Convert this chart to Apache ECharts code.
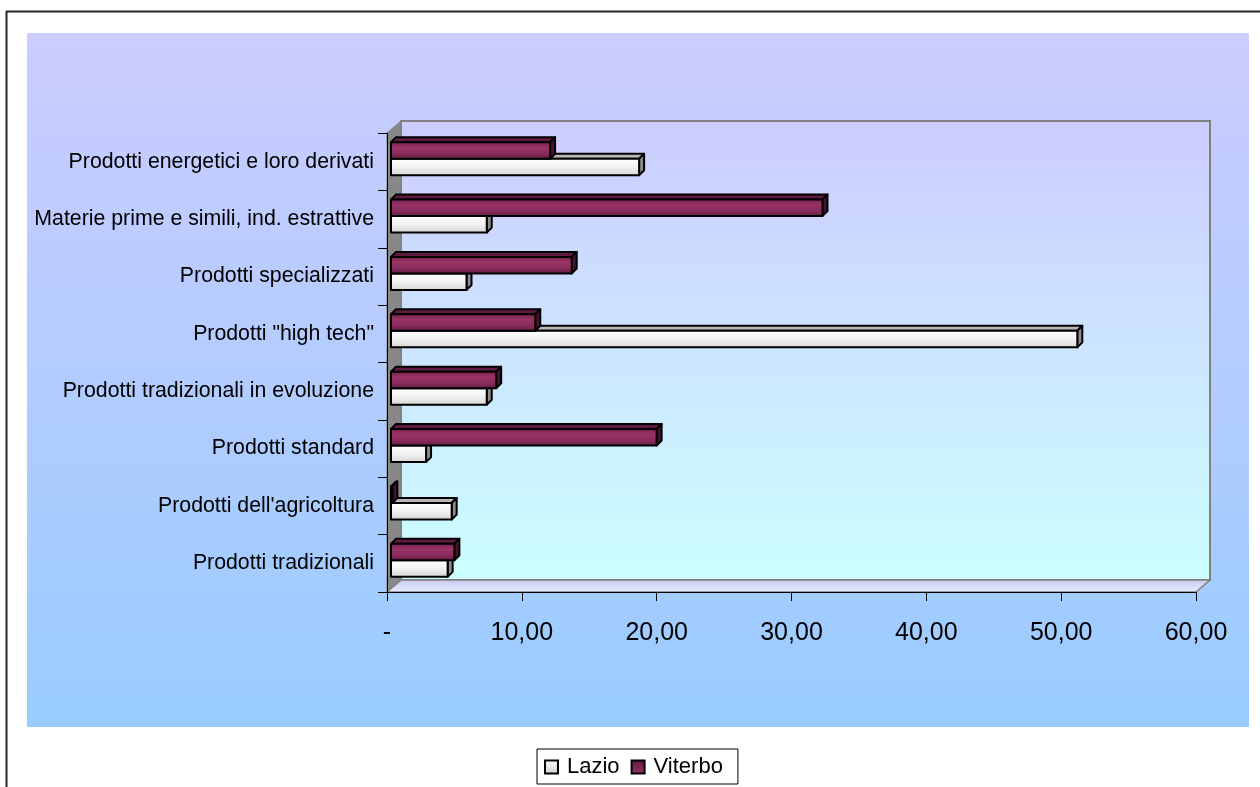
<!DOCTYPE html>
<html>
<head>
<meta charset="utf-8">
<script src="https://cdn.jsdelivr.net/npm/echarts@6/dist/echarts.min.js"></script>
<style>
  html, body { margin: 0; padding: 0; background: #ffffff; }
  #chart { width: 1260px; height: 787px; }
</style>
</head>
<body>
<div id="chart"></div>
<script>
// Categories, listed top to bottom
const categories = [
  'Prodotti energetici e loro derivati',
  'Materie prime e simili, ind. estrattive',
  'Prodotti specializzati',
  'Prodotti "high tech"',
  'Prodotti tradizionali in evoluzione',
  'Prodotti standard',
  "Prodotti dell'agricoltura",
  'Prodotti tradizionali'
];
const lazio   = [18.4, 7.1, 5.6, 50.9, 7.1, 2.6, 4.5, 4.2];
const viterbo = [11.8, 32.0, 13.4, 10.7, 7.8, 19.7, 0.1, 4.7];
const seriesNames = ['Lazio', 'Viterbo'];
const axisMin = 0, axisMax = 60, axisStep = 10;

// Plot frame (front plane) and the 3D depth used for walls and bars
const FRAME = { left: 387, top: 133, right: 1196, bottom: 592 };
const WALL_D = [14, -12];   // back wall offset
const BAR_SHIFT = [4, -3];  // bars sit slightly behind the front plane
const BAR_D = [5, -5];      // bar thickness in depth
const W = 1260, H = 787;

const chart = echarts.init(document.getElementById('chart'), null, { renderer: 'canvas' });

const lin = (stops) => new echarts.graphic.LinearGradient(0, 0, 0, 1,
  stops.map((c, i) => ({ offset: i / (stops.length - 1), color: c })));

const STYLE = {
  Lazio: {
    front: () => lin(['#ffffff', '#f2f2f2', '#d4d4d4']),
    top: '#b8b8b8',
    side: '#8c8c8c'
  },
  Viterbo: {
    front: () => lin(['#6f2049', '#993366', '#8a2d5c', '#5c1a3e']),
    top: '#5e1a3f',
    side: '#4a1232'
  }
};

function makeRender(name) {
  const st = STYLE[name];
  const upper = name === 'Viterbo';
  return function (params, api) {
    const val = api.value(0);
    const cat = api.value(1);
    const p0 = api.coord([0, cat]);
    const p1 = api.coord([val, cat]);
    const band = api.size([0, 1])[1];
    const h = band * 0.288;
    const cy = p0[1] + BAR_SHIFT[1];
    const y1 = upper ? cy - h : cy;
    const y2 = y1 + h;
    const x1 = p0[0] + BAR_SHIFT[0];
    const x2 = Math.max(p1[0] + BAR_SHIFT[0], x1 + 1);
    const dx = BAR_D[0], dy = BAR_D[1];
    const stroke = { stroke: '#000000', lineWidth: 2, lineJoin: 'round' };
    return {
      type: 'group',
      children: [
        { type: 'polygon',
          shape: { points: [[x1, y1], [x1 + dx, y1 + dy], [x2 + dx, y1 + dy], [x2, y1]] },
          style: Object.assign({ fill: st.top }, stroke) },
        { type: 'polygon',
          shape: { points: [[x2, y1], [x2 + dx, y1 + dy], [x2 + dx, y2 + dy], [x2, y2]] },
          style: Object.assign({ fill: st.side }, stroke) },
        { type: 'rect',
          shape: { x: x1, y: y1, width: x2 - x1, height: h },
          style: Object.assign({ fill: st.front() }, stroke) }
      ]
    };
  };
}

const fmt = (v) => v === 0 ? '-' : v.toFixed(2).replace('.', ',');

// Walls and floor of the 3D plot box
const L = FRAME.left, T = FRAME.top, R = FRAME.right, B = FRAME.bottom;
const dX = WALL_D[0], dY = WALL_D[1];
const graphics = [
  // outer plot area
  { type: 'rect', z: -10, shape: { x: 27, y: 33, width: 1222, height: 694 },
    style: { fill: lin(['#ccccff', '#99ccff']) } },
  // back wall
  { type: 'rect', z: -9, shape: { x: L + dX, y: T + dY, width: R - L, height: B - T },
    style: { fill: lin(['#ccccff', '#ccffff']), stroke: '#808080', lineWidth: 2 } },
  // left side wall
  { type: 'polygon', z: -8,
    shape: { points: [[L, T], [L + dX, T + dY], [L + dX, B + dY], [L, B]] },
    style: { fill: '#888888', stroke: '#808080', lineWidth: 1 } },
  // floor
  { type: 'polygon', z: -8,
    shape: { points: [[L, B], [L + dX, B + dY], [R + dX, B + dY], [R, B]] },
    style: { fill: new echarts.graphic.LinearGradient(0, 0, 0, 1, [
      { offset: 0, color: '#c8c8f0' }, { offset: 1, color: '#e6eeff' }]),
      stroke: '#808080', lineWidth: 1.5 } },
  // page frame lines
  { type: 'line', z: 10, shape: { x1: 6, y1: 11.5, x2: W, y2: 11.5 },
    style: { stroke: '#262626', lineWidth: 2 } },
  { type: 'line', z: 10, shape: { x1: 6.5, y1: 11, x2: 6.5, y2: H },
    style: { stroke: '#262626', lineWidth: 2 } }
];

const option = {
  backgroundColor: '#ffffff',
  animation: false,
  textStyle: { fontFamily: 'Liberation Sans, Arial, sans-serif' },
  graphic: graphics,
  grid: { left: L, top: T, width: R - L, height: B - T, containLabel: false },
  xAxis: {
    type: 'value', min: axisMin, max: axisMax, interval: axisStep,
    axisLine: { show: true, lineStyle: { color: '#000', width: 1 } },
    axisTick: { show: true, length: 9, lineStyle: { color: '#000' } },
    splitLine: { show: false },
    axisLabel: { formatter: fmt, fontSize: 25, color: '#000', margin: 29 }
  },
  yAxis: {
    type: 'category', data: categories, inverse: true,
    axisLine: { show: true, lineStyle: { color: '#000', width: 1 } },
    axisTick: { show: true, length: 9, lineStyle: { color: '#000' } },
    axisLabel: { fontSize: 21.3, color: '#000', margin: 13, padding: [4, 0, 0, 0] },
    splitLine: { show: false }
  },
  legend: {
    left: 537, top: 749,
    padding: [7, 15, 6, 7],
    borderColor: '#000', borderWidth: 1, backgroundColor: '#ffffff',
    itemWidth: 13, itemHeight: 13, itemGap: 11,
    textStyle: { fontSize: 22, color: '#000', padding: [0, 0, 0, 4] },
    data: [
      { name: 'Lazio', icon: 'rect',
        itemStyle: { color: lin(['#ffffff', '#cfcfcf']), borderColor: '#000', borderWidth: 2 } },
      { name: 'Viterbo', icon: 'rect',
        itemStyle: { color: lin(['#5c1a3e', '#993366']), borderColor: '#000', borderWidth: 2 } }
    ]
  },
  series: seriesNames.map((name) => ({
    name: name,
    type: 'custom',
    renderItem: makeRender(name),
    encode: { x: 0, y: 1 },
    itemStyle: { color: name === 'Lazio' ? '#e0e0e0' : '#993366' },
    data: (name === 'Lazio' ? lazio : viterbo).map((v, i) => [v, i])
  }))
};

chart.setOption(option);
</script>
</body>
</html>
